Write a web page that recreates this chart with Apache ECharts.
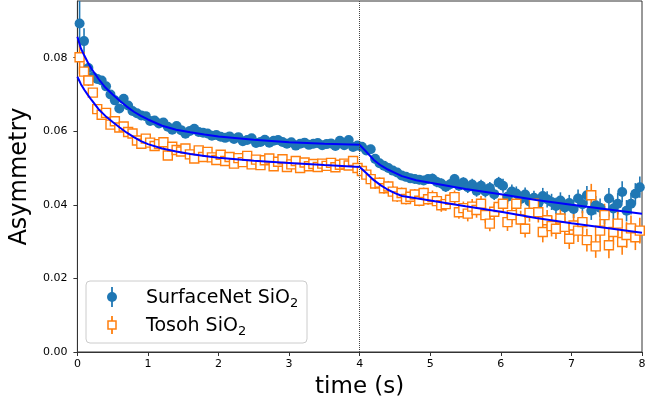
<!DOCTYPE html>
<html>
<head>
<meta charset="utf-8">
<script src="https://cdn.jsdelivr.net/npm/echarts@6/dist/echarts.min.js"></script>
<style>
html, body { margin: 0; padding: 0; background: #fff; }
#chart { width: 667px; height: 409px; }
</style>
</head>
<body>
<div id="chart"></div>
<script>
// bin centres (s), shared by both samples
var time = [
    0.031, 0.094, 0.156, 0.219, 0.281, 0.344, 0.406, 0.469,
    0.531, 0.594, 0.656, 0.719, 0.781, 0.844, 0.906, 0.969,
    1.031, 1.094, 1.156, 1.219, 1.281, 1.344, 1.406, 1.469,
    1.531, 1.594, 1.656, 1.719, 1.781, 1.844, 1.906, 1.969,
    2.031, 2.094, 2.156, 2.219, 2.281, 2.344, 2.406, 2.469,
    2.531, 2.594, 2.656, 2.719, 2.781, 2.844, 2.906, 2.969,
    3.031, 3.094, 3.156, 3.219, 3.281, 3.344, 3.406, 3.469,
    3.531, 3.594, 3.656, 3.719, 3.781, 3.844, 3.906, 3.969,
    4.031, 4.094, 4.156, 4.219, 4.281, 4.344, 4.406, 4.469,
    4.531, 4.594, 4.656, 4.719, 4.781, 4.844, 4.906, 4.969,
    5.031, 5.094, 5.156, 5.219, 5.281, 5.344, 5.406, 5.469,
    5.531, 5.594, 5.656, 5.719, 5.781, 5.844, 5.906, 5.969,
    6.031, 6.094, 6.156, 6.219, 6.281, 6.344, 6.406, 6.469,
    6.531, 6.594, 6.656, 6.719, 6.781, 6.844, 6.906, 6.969,
    7.031, 7.094, 7.156, 7.219, 7.281, 7.344, 7.406, 7.469,
    7.531, 7.594, 7.656, 7.719, 7.781, 7.844, 7.906, 7.969
];

var surfaceNet = [
    0.0893, 0.0845, 0.0772, 0.0748, 0.0742, 0.0738, 0.0722, 0.0700,
    0.0684, 0.0662, 0.0688, 0.0670, 0.0655, 0.0649, 0.0643, 0.0641,
    0.0628, 0.0629, 0.0621, 0.0624, 0.0612, 0.0604, 0.0614, 0.0603,
    0.0593, 0.0601, 0.0607, 0.0598, 0.0596, 0.0594, 0.0588, 0.0590,
    0.0585, 0.0582, 0.0586, 0.0579, 0.0584, 0.0573, 0.0576, 0.0581,
    0.0568, 0.0571, 0.0577, 0.0569, 0.0574, 0.0576, 0.0571, 0.0566,
    0.0570, 0.0561, 0.0566, 0.0569, 0.0563, 0.0566, 0.0568, 0.0562,
    0.0565, 0.0567, 0.0560, 0.0574, 0.0562, 0.0576, 0.0557, 0.0561,
    0.0558, 0.0548, 0.0551, 0.0525, 0.0513, 0.0506, 0.0500, 0.0493,
    0.0488, 0.0480, 0.0476, 0.0472, 0.0470, 0.0468, 0.0466, 0.0470,
    0.0471, 0.0462, 0.0458, 0.0449, 0.0456, 0.0470, 0.0452, 0.0461,
    0.0448, 0.0455, 0.0438, 0.0452, 0.0436, 0.0446, 0.0429, 0.0460,
    0.0452, 0.0422, 0.0436, 0.0431, 0.0416, 0.0428, 0.0409, 0.0419,
    0.0404, 0.0424, 0.0415, 0.0408, 0.0397, 0.0412, 0.0393, 0.0405,
    0.0389, 0.0417, 0.0402, 0.0426, 0.0384, 0.0399, 0.0392, 0.0372,
    0.0417, 0.0390, 0.0403, 0.0435, 0.0384, 0.0403, 0.0430, 0.0448
];
var surfaceNetErr = [
    0.0065, 0.0035, 0.0015, 0.0010, 0.0007, 0.0007, 0.0007, 0.0007,
    0.0007, 0.0007, 0.0007, 0.0007, 0.0007, 0.0007, 0.0007, 0.0007,
    0.0008, 0.0008, 0.0008, 0.0008, 0.0008, 0.0008, 0.0008, 0.0008,
    0.0008, 0.0008, 0.0008, 0.0008, 0.0008, 0.0008, 0.0008, 0.0008,
    0.0009, 0.0009, 0.0009, 0.0009, 0.0009, 0.0009, 0.0009, 0.0009,
    0.0009, 0.0009, 0.0009, 0.0009, 0.0009, 0.0009, 0.0009, 0.0009,
    0.0010, 0.0010, 0.0010, 0.0010, 0.0010, 0.0010, 0.0010, 0.0010,
    0.0010, 0.0010, 0.0010, 0.0010, 0.0010, 0.0010, 0.0010, 0.0010,
    0.0012, 0.0012, 0.0012, 0.0012, 0.0012, 0.0012, 0.0012, 0.0012,
    0.0012, 0.0012, 0.0012, 0.0012, 0.0012, 0.0012, 0.0012, 0.0012,
    0.0014, 0.0014, 0.0014, 0.0014, 0.0014, 0.0014, 0.0014, 0.0014,
    0.0016, 0.0016, 0.0016, 0.0016, 0.0016, 0.0016, 0.0016, 0.0016,
    0.0019, 0.0019, 0.0019, 0.0019, 0.0019, 0.0019, 0.0019, 0.0019,
    0.0022, 0.0022, 0.0022, 0.0022, 0.0022, 0.0022, 0.0022, 0.0022,
    0.0025, 0.0025, 0.0025, 0.0025, 0.0025, 0.0025, 0.0025, 0.0025,
    0.0029, 0.0029, 0.0029, 0.0029, 0.0029, 0.0029, 0.0029, 0.0029
];

var tosoh = [
    0.0801, 0.0762, 0.0738, 0.0705, 0.0660, 0.0645, 0.0650, 0.0618,
    0.0627, 0.0610, 0.0613, 0.0598, 0.0594, 0.0575, 0.0566, 0.0580,
    0.0569, 0.0560, 0.0565, 0.0570, 0.0534, 0.0558, 0.0549, 0.0545,
    0.0553, 0.0537, 0.0526, 0.0548, 0.0530, 0.0544, 0.0529, 0.0522,
    0.0536, 0.0519, 0.0530, 0.0512, 0.0527, 0.0516, 0.0533, 0.0510,
    0.0523, 0.0508, 0.0521, 0.0526, 0.0505, 0.0517, 0.0524, 0.0503,
    0.0510, 0.0519, 0.0500, 0.0515, 0.0505, 0.0511, 0.0503, 0.0512,
    0.0506, 0.0514, 0.0502, 0.0509, 0.0512, 0.0507, 0.0519, 0.0500,
    0.0492, 0.0482, 0.0470, 0.0458, 0.0460, 0.0445, 0.0450, 0.0436,
    0.0423, 0.0432, 0.0416, 0.0422, 0.0428, 0.0411, 0.0432, 0.0415,
    0.0421, 0.0410, 0.0399, 0.0402, 0.0414, 0.0421, 0.0380, 0.0391,
    0.0376, 0.0395, 0.0386, 0.0403, 0.0372, 0.0349, 0.0381, 0.0394,
    0.0403, 0.0353, 0.0372, 0.0403, 0.0360, 0.0335, 0.0378, 0.0403,
    0.0380, 0.0326, 0.0358, 0.0342, 0.0335, 0.0363, 0.0340, 0.0308,
    0.0344, 0.0330, 0.0353, 0.0304, 0.0426, 0.0287, 0.0330, 0.0372,
    0.0290, 0.0326, 0.0349, 0.0299, 0.0318, 0.0336, 0.0312, 0.0330
];
var tosohErr = [
    0.0045, 0.0025, 0.0015, 0.0009, 0.0009, 0.0009, 0.0009, 0.0009,
    0.0009, 0.0009, 0.0009, 0.0009, 0.0009, 0.0009, 0.0009, 0.0009,
    0.0010, 0.0010, 0.0010, 0.0010, 0.0010, 0.0010, 0.0010, 0.0010,
    0.0010, 0.0010, 0.0010, 0.0010, 0.0010, 0.0010, 0.0010, 0.0010,
    0.0011, 0.0011, 0.0011, 0.0011, 0.0011, 0.0011, 0.0011, 0.0011,
    0.0011, 0.0011, 0.0011, 0.0011, 0.0011, 0.0011, 0.0011, 0.0011,
    0.0012, 0.0012, 0.0012, 0.0012, 0.0012, 0.0012, 0.0012, 0.0012,
    0.0012, 0.0012, 0.0012, 0.0012, 0.0012, 0.0012, 0.0012, 0.0012,
    0.0015, 0.0015, 0.0015, 0.0015, 0.0015, 0.0015, 0.0015, 0.0015,
    0.0015, 0.0015, 0.0015, 0.0015, 0.0015, 0.0015, 0.0015, 0.0015,
    0.0018, 0.0018, 0.0018, 0.0018, 0.0018, 0.0018, 0.0018, 0.0018,
    0.0021, 0.0021, 0.0021, 0.0021, 0.0021, 0.0021, 0.0021, 0.0021,
    0.0024, 0.0024, 0.0024, 0.0024, 0.0024, 0.0024, 0.0024, 0.0024,
    0.0028, 0.0028, 0.0028, 0.0028, 0.0028, 0.0028, 0.0028, 0.0028,
    0.0031, 0.0031, 0.0031, 0.0031, 0.0031, 0.0031, 0.0031, 0.0031,
    0.0035, 0.0035, 0.0035, 0.0035, 0.0035, 0.0035, 0.0035, 0.0035
];

// fitted curves
var fitTime = [0, 0.05, 0.1, 0.15, 0.2, 0.3, 0.4, 0.5, 0.6, 0.7, 0.8, 0.9, 1.0, 1.2, 1.4, 1.6, 1.8, 2.0,
    2.5, 3.0, 3.5, 4.0, 4.1, 4.2, 4.3, 4.4, 4.5, 4.6, 4.8, 5.0, 5.5, 6.0, 6.5, 7.0, 7.5, 8.0];
var surfaceNetFit = [0.0857, 0.0825, 0.0805, 0.0786, 0.0770, 0.0742, 0.0718, 0.0700, 0.0683, 0.0667,
    0.0653, 0.0642, 0.0632, 0.0615, 0.0604, 0.0597, 0.0591, 0.0586, 0.0577, 0.0570, 0.0566, 0.0563,
    0.0543, 0.0522, 0.0507, 0.0496, 0.0487, 0.0478, 0.0467, 0.0460, 0.0443, 0.0429, 0.0413, 0.0400,
    0.0388, 0.0376];
var tosohFit = [0.0748, 0.0728, 0.0712, 0.0698, 0.0685, 0.0660, 0.0641, 0.0625, 0.0610, 0.0596,
    0.0584, 0.0573, 0.0565, 0.0553, 0.0545, 0.0538, 0.0533, 0.0528, 0.0520, 0.0514, 0.0508, 0.0503,
    0.0485, 0.0467, 0.0453, 0.0441, 0.0432, 0.0424, 0.0418, 0.0412, 0.0396, 0.0381, 0.0364, 0.0350,
    0.0337, 0.0324];

var xTicks = { min: 0, max: 8, step: 1 };
var yTicks = { min: 0, max: 0.0954, step: 0.02 };

var BLUE = '#1f77b4';
var ORANGE = '#ff7f0e';
var FONT = 'DejaVu Sans';

function pairs(a, b) {
    var out = [];
    for (var i = 0; i < a.length; i++) out.push([a[i], b[i]]);
    return out;
}
function triples(a, b, c) {
    var out = [];
    for (var i = 0; i < a.length; i++) out.push([a[i], b[i], c[i]]);
    return out;
}

// vertical error bar from y-e to y+e
function renderErr(params, api) {
    var x = api.value(0), y = api.value(1), e = api.value(2);
    var p1 = api.coord([x, y + e]);
    var p2 = api.coord([x, y - e]);
    return {
        type: 'line',
        shape: { x1: p1[0], y1: p1[1], x2: p2[0], y2: p2[1] },
        style: { stroke: api.visual('color'), lineWidth: 1.6 }
    };
}

// legend box drawn by hand so the errorbar glyphs match
var legendRich = {
    sub: { fontFamily: FONT, fontSize: 13, fill: '#000', lineHeight: 14, verticalAlign: 'bottom' }
};
var legendGraphic = [
    { type: 'rect', shape: { x: 86, y: 281, width: 221, height: 62, r: 4 },
      style: { fill: 'rgba(255,255,255,0.8)', stroke: '#cccccc', lineWidth: 1 }, z: 100 },
    { type: 'line', shape: { x1: 112, y1: 287, x2: 112, y2: 307 },
      style: { stroke: BLUE, lineWidth: 1.8 }, z: 101 },
    { type: 'circle', shape: { cx: 112, cy: 297, r: 5 }, style: { fill: BLUE }, z: 101 },
    { type: 'line', shape: { x1: 112, y1: 316, x2: 112, y2: 334 },
      style: { stroke: ORANGE, lineWidth: 1.8 }, z: 101 },
    { type: 'rect', shape: { x: 108, y: 321, width: 8, height: 8 },
      style: { fill: '#fff', stroke: ORANGE, lineWidth: 1.5 }, z: 101 },
    { type: 'text', x: 146, y: 298, z: 101,
      style: { text: 'SurfaceNet SiO{sub|2}', fontFamily: FONT, fontSize: 19, fill: '#000',
               lineHeight: 24, verticalAlign: 'middle', rich: legendRich } },
    { type: 'text', x: 146, y: 326, z: 101,
      style: { text: 'Tosoh SiO{sub|2}', fontFamily: FONT, fontSize: 19, fill: '#000',
               lineHeight: 24, verticalAlign: 'middle', rich: legendRich } }
];

var myChart = echarts.init(document.getElementById('chart'));
myChart.setOption({
    animation: false,
    textStyle: { fontFamily: FONT },
    grid: {
        left: 76, right: 25, top: 1, bottom: 57,
        show: true, borderColor: '#333', borderWidth: 1, backgroundColor: '#fff'
    },
    graphic: legendGraphic,
    xAxis: {
        type: 'value',
        min: xTicks.min, max: xTicks.max, interval: xTicks.step,
        name: 'time (s)',
        nameLocation: 'middle', nameGap: 24,
        nameTextStyle: { fontFamily: FONT, fontSize: 23, color: '#000' },
        axisLine: { lineStyle: { color: '#333', width: 1 } },
        axisTick: { length: 4, lineStyle: { color: '#333' } },
        axisLabel: { fontFamily: FONT, fontSize: 11, color: '#000', margin: 7 },
        splitLine: { show: false }
    },
    yAxis: {
        type: 'value',
        min: yTicks.min, max: yTicks.max, interval: yTicks.step,
        name: 'Asymmetry',
        nameLocation: 'middle', nameGap: 40, nameRotate: 90,
        nameTextStyle: { fontFamily: FONT, fontSize: 24, color: '#000' },
        axisLine: { lineStyle: { color: '#333', width: 1 } },
        axisTick: { length: 4, lineStyle: { color: '#333' } },
        axisLabel: {
            fontFamily: FONT, fontSize: 11, color: '#000', margin: 10, showMaxLabel: false,
            formatter: function (v) { return v.toFixed(2); }
        },
        splitLine: { show: false }
    },
    series: [
        {
            name: 'SurfaceNet SiO2 err', type: 'custom', renderItem: renderErr,
            itemStyle: { color: BLUE },
            encode: { x: 0, y: 1 }, clip: true,
            data: triples(time, surfaceNet, surfaceNetErr)
        },
        {
            name: 'SurfaceNet SiO2', type: 'scatter', symbol: 'circle', symbolSize: 10,
            itemStyle: { color: BLUE, opacity: 1 },
            data: pairs(time, surfaceNet)
        },
        {
            name: 'Tosoh SiO2 err', type: 'custom', renderItem: renderErr,
            itemStyle: { color: ORANGE },
            encode: { x: 0, y: 1 }, clip: true,
            data: triples(time, tosoh, tosohErr)
        },
        {
            name: 'Tosoh SiO2', type: 'scatter', symbol: 'rect', symbolSize: 9,
            itemStyle: { color: '#fff', borderColor: ORANGE, borderWidth: 1.4, opacity: 1 },
            data: pairs(time, tosoh)
        },
        {
            name: 'fit SurfaceNet', type: 'line', showSymbol: false, smooth: false,
            lineStyle: { color: '#0000ff', width: 2 },
            itemStyle: { color: '#0000ff' },
            data: pairs(fitTime, surfaceNetFit),
            markLine: {
                silent: true, symbol: ['none', 'none'],
                label: { show: false },
                lineStyle: { color: '#444', type: 'dotted', width: 1 },
                data: [{ xAxis: 4 }]
            }
        },
        {
            name: 'fit Tosoh', type: 'line', showSymbol: false, smooth: false,
            lineStyle: { color: '#0000ff', width: 2 },
            itemStyle: { color: '#0000ff' },
            data: pairs(fitTime, tosohFit)
        }
    ]
});
</script>
</body>
</html>
